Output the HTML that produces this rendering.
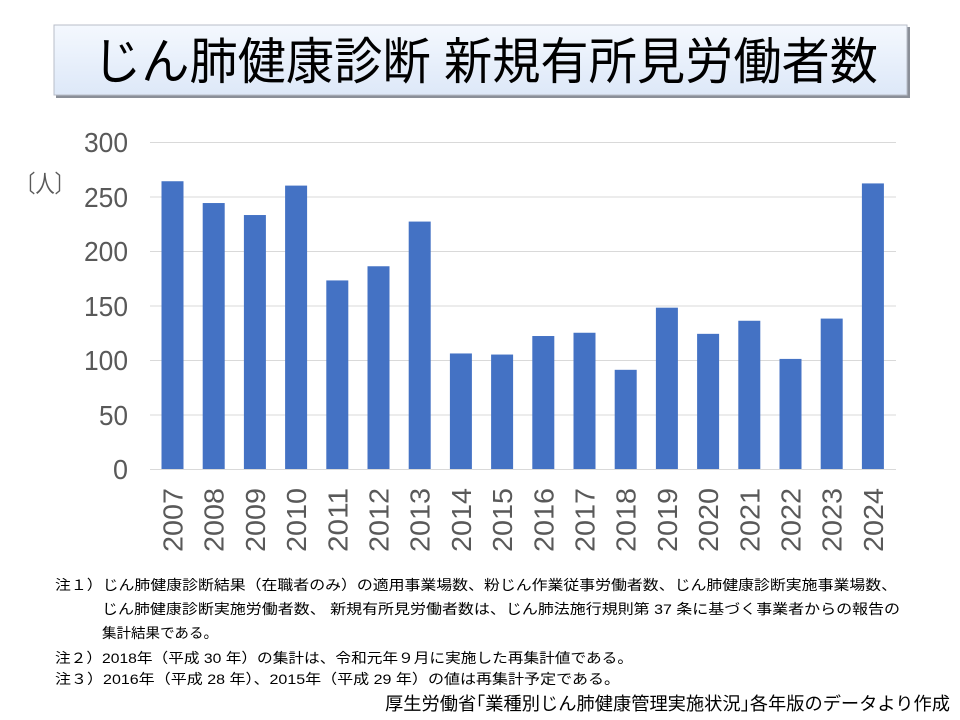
<!DOCTYPE html>
<html><head><meta charset="utf-8"><style>html,body{margin:0;padding:0;background:#fff;}svg{display:block}</style></head>
<body>
<svg width="960" height="720" xmlns="http://www.w3.org/2000/svg" font-family="'Liberation Sans','Noto Sans CJK JP',sans-serif">
<defs>
<linearGradient id="tg" x1="0" y1="0" x2="0" y2="1"><stop offset="0" stop-color="#f4f8fe"/><stop offset="1" stop-color="#dde8f8"/></linearGradient>
</defs>
<rect x="56" y="27" width="854" height="71" fill="#8a8f98"/>
<rect x="54" y="25" width="853" height="70" fill="url(#tg)" stroke="#b8bec8" stroke-width="1"/>
<text x="93" y="79" font-size="50" textLength="785" lengthAdjust="spacingAndGlyphs" fill="#000">じん肺健康診断  新規有所見労働者数</text>
<g stroke="#d9d9d9" stroke-width="1">
<line x1="150" y1="142.5" x2="896" y2="142.5"/><line x1="150" y1="197" x2="896" y2="197"/><line x1="150" y1="251.5" x2="896" y2="251.5"/><line x1="150" y1="306" x2="896" y2="306"/><line x1="150" y1="360.5" x2="896" y2="360.5"/><line x1="150" y1="415" x2="896" y2="415"/><line x1="150" y1="469.5" x2="896" y2="469.5"/>
</g>
<g font-size="28" fill="#595959" text-anchor="end">
<text x="128" y="152" textLength="44" lengthAdjust="spacingAndGlyphs">300</text>
<text x="128" y="207" textLength="44" lengthAdjust="spacingAndGlyphs">250</text>
<text x="128" y="261" textLength="44" lengthAdjust="spacingAndGlyphs">200</text>
<text x="128" y="316" textLength="44" lengthAdjust="spacingAndGlyphs">150</text>
<text x="128" y="370" textLength="44" lengthAdjust="spacingAndGlyphs">100</text>
<text x="128" y="425" textLength="29" lengthAdjust="spacingAndGlyphs">50</text>
<text x="128" y="479" textLength="15" lengthAdjust="spacingAndGlyphs">0</text>
</g>
<text x="16" y="192" font-size="24" fill="#595959" textLength="58" lengthAdjust="spacingAndGlyphs">〔人〕</text>
<g fill="#4472c4" id="bars"></g>
<g id="yrs" font-size="28" fill="#595959"></g>
<g font-size="14" fill="#000">
<text x="55" y="590" textLength="842" lengthAdjust="spacingAndGlyphs">注１）じん肺健康診断結果（在職者のみ）の適用事業場数、粉じん作業従事労働者数、じん肺健康診断実施事業場数、</text>
<text x="102" y="614" textLength="798" lengthAdjust="spacingAndGlyphs">じん肺健康診断実施労働者数、 新規有所見労働者数は、じん肺法施行規則第 37 条に基づく事業者からの報告の</text>
<text x="102" y="638" textLength="116" lengthAdjust="spacingAndGlyphs">集計結果である。</text>
<text x="55" y="663" textLength="578" lengthAdjust="spacingAndGlyphs">注２）2018年（平成 30 年）の集計は、令和元年９月に実施した再集計値である。</text>
<text x="55" y="684" textLength="565" lengthAdjust="spacingAndGlyphs">注３）2016年（平成 28 年）、2015年（平成 29 年）の値は再集計予定である。</text>
</g>
<text x="385" y="710" font-size="18" fill="#000" textLength="565" lengthAdjust="spacingAndGlyphs">厚生労働省｢業種別じん肺健康管理実施状況｣各年版のデータより作成</text>
<script>
var v=[264,244,233,260,173,186,227,106,105,122,125,91,148,124,136,101,138,262];
var b=document.getElementById('bars'),y=document.getElementById('yrs'),ns='http://www.w3.org/2000/svg';
v.forEach(function(d,i){var cx=172.5+i*41.2;var h=d*1.09;
var r=document.createElementNS(ns,'rect');r.setAttribute('x',cx-11);r.setAttribute('y',469-h);r.setAttribute('width',22);r.setAttribute('height',h);b.appendChild(r);
var t=document.createElementNS(ns,'text');t.setAttribute('transform','translate('+(cx+10)+',552) rotate(-90)');t.setAttribute('textLength','64');t.setAttribute('lengthAdjust','spacingAndGlyphs');t.textContent=String(2007+i);y.appendChild(t);});
</script>
</svg>
</body></html>
